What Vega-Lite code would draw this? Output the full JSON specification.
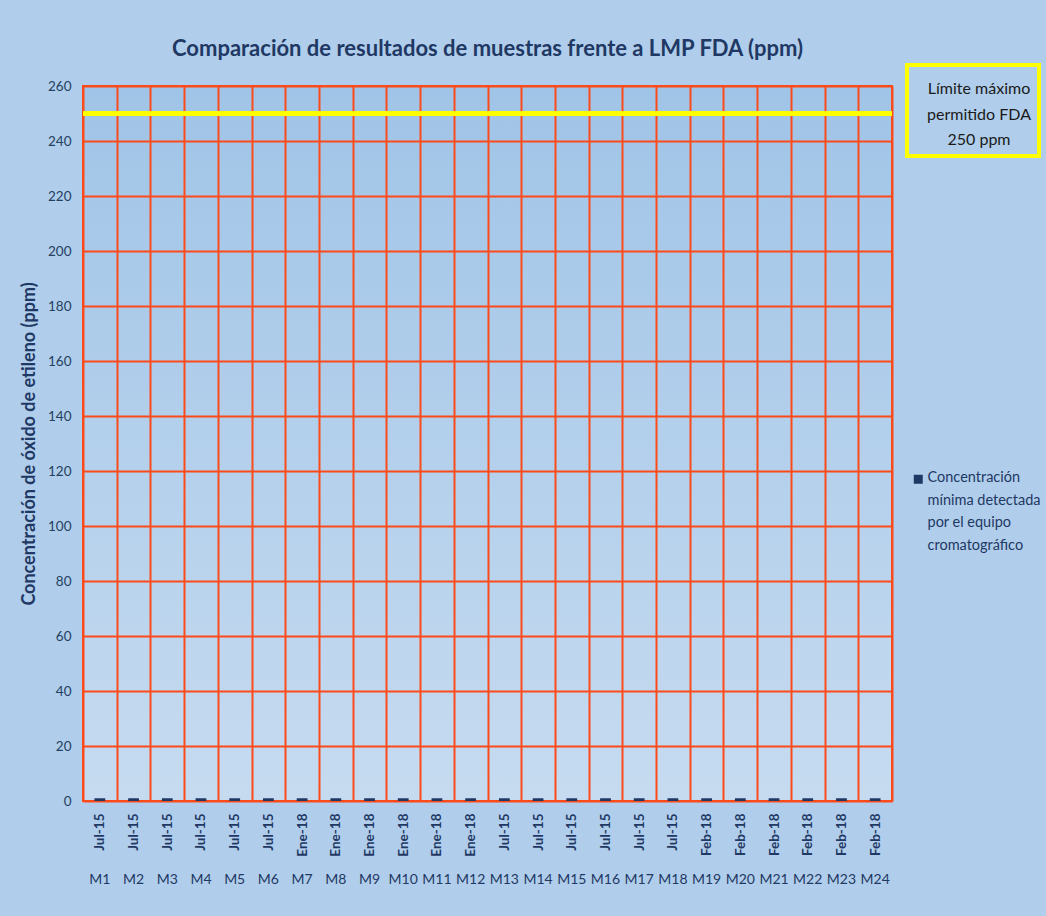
{
  "$schema": "https://vega.github.io/schema/vega-lite/v6.json",
  "width": 809,
  "height": 715,
  "autosize": {"type": "none"},
  "padding": {"left": 83, "top": 86, "right": 154, "bottom": 115},
  "background": "#b0ceeb",
  "view": {
    "fill": {
      "gradient": "linear",
      "x1": 0, "y1": 0, "x2": 0, "y2": 1,
      "stops": [
        {"offset": 0, "color": "#a0c4e7"},
        {"offset": 1, "color": "#c6dbf0"}
      ]
    },
    "stroke": "#fc4a1a",
    "strokeWidth": 2
  },
  "title": {
    "text": "Comparación de resultados de muestras frente a LMP FDA (ppm)",
    "font": "Lato",
    "fontSize": 22,
    "fontWeight": "bold",
    "color": "#1f3864",
    "anchor": "middle",
    "offset": 2
  },
  "config": {"font": "Lato"},
  "datasets": {
    "muestras": [
      {"muestra": "M1", "fecha": "Jul-15", "valor": 1, "serie": "Concentración\nmínima detectada\npor el equipo\ncromatográfico"},
      {"muestra": "M2", "fecha": "Jul-15", "valor": 1, "serie": "Concentración\nmínima detectada\npor el equipo\ncromatográfico"},
      {"muestra": "M3", "fecha": "Jul-15", "valor": 1, "serie": "Concentración\nmínima detectada\npor el equipo\ncromatográfico"},
      {"muestra": "M4", "fecha": "Jul-15", "valor": 1, "serie": "Concentración\nmínima detectada\npor el equipo\ncromatográfico"},
      {"muestra": "M5", "fecha": "Jul-15", "valor": 1, "serie": "Concentración\nmínima detectada\npor el equipo\ncromatográfico"},
      {"muestra": "M6", "fecha": "Jul-15", "valor": 1, "serie": "Concentración\nmínima detectada\npor el equipo\ncromatográfico"},
      {"muestra": "M7", "fecha": "Ene-18", "valor": 1, "serie": "Concentración\nmínima detectada\npor el equipo\ncromatográfico"},
      {"muestra": "M8", "fecha": "Ene-18", "valor": 1, "serie": "Concentración\nmínima detectada\npor el equipo\ncromatográfico"},
      {"muestra": "M9", "fecha": "Ene-18", "valor": 1, "serie": "Concentración\nmínima detectada\npor el equipo\ncromatográfico"},
      {"muestra": "M10", "fecha": "Ene-18", "valor": 1, "serie": "Concentración\nmínima detectada\npor el equipo\ncromatográfico"},
      {"muestra": "M11", "fecha": "Ene-18", "valor": 1, "serie": "Concentración\nmínima detectada\npor el equipo\ncromatográfico"},
      {"muestra": "M12", "fecha": "Ene-18", "valor": 1, "serie": "Concentración\nmínima detectada\npor el equipo\ncromatográfico"},
      {"muestra": "M13", "fecha": "Jul-15", "valor": 1, "serie": "Concentración\nmínima detectada\npor el equipo\ncromatográfico"},
      {"muestra": "M14", "fecha": "Jul-15", "valor": 1, "serie": "Concentración\nmínima detectada\npor el equipo\ncromatográfico"},
      {"muestra": "M15", "fecha": "Jul-15", "valor": 1, "serie": "Concentración\nmínima detectada\npor el equipo\ncromatográfico"},
      {"muestra": "M16", "fecha": "Jul-15", "valor": 1, "serie": "Concentración\nmínima detectada\npor el equipo\ncromatográfico"},
      {"muestra": "M17", "fecha": "Jul-15", "valor": 1, "serie": "Concentración\nmínima detectada\npor el equipo\ncromatográfico"},
      {"muestra": "M18", "fecha": "Jul-15", "valor": 1, "serie": "Concentración\nmínima detectada\npor el equipo\ncromatográfico"},
      {"muestra": "M19", "fecha": "Feb-18", "valor": 1, "serie": "Concentración\nmínima detectada\npor el equipo\ncromatográfico"},
      {"muestra": "M20", "fecha": "Feb-18", "valor": 1, "serie": "Concentración\nmínima detectada\npor el equipo\ncromatográfico"},
      {"muestra": "M21", "fecha": "Feb-18", "valor": 1, "serie": "Concentración\nmínima detectada\npor el equipo\ncromatográfico"},
      {"muestra": "M22", "fecha": "Feb-18", "valor": 1, "serie": "Concentración\nmínima detectada\npor el equipo\ncromatográfico"},
      {"muestra": "M23", "fecha": "Feb-18", "valor": 1, "serie": "Concentración\nmínima detectada\npor el equipo\ncromatográfico"},
      {"muestra": "M24", "fecha": "Feb-18", "valor": 1, "serie": "Concentración\nmínima detectada\npor el equipo\ncromatográfico"}
    ],
    "limite": [
      {"limite": "Límite máximo\npermitido FDA\n250 ppm", "valor": 250}
    ]
  },
  "layer": [
    {
      "data": {"name": "muestras"},
      "transform": [{"calculate": "datum.fecha + '|' + datum.muestra", "as": "clave"}],
      "mark": {"type": "bar", "width": {"band": 0.32}},
      "encoding": {
        "x": {
          "field": "clave",
          "type": "nominal",
          "sort": null,
          "scale": {"paddingInner": 0, "paddingOuter": 0},
          "axis": {
            "orient": "bottom",
            "title": null,
            "labelExpr": "split(datum.label, '|')[0]",
            "labelAngle": -90,
            "labelFont": "Lato",
            "labelFontSize": 13.5,
            "labelFontWeight": "bold",
            "labelColor": "#1f3864",
            "labelPadding": 12,
            "ticks": false,
            "domain": false,
            "grid": true,
            "tickBand": "extent",
            "gridColor": "#fc4a1a",
            "gridWidth": 2,
            "gridOpacity": 1
          }
        },
        "y": {
          "field": "valor",
          "type": "quantitative",
          "scale": {"domain": [0, 260], "nice": false},
          "axis": {
            "title": "Concentración de óxido de etileno (ppm)",
            "titleFont": "Lato",
            "titleFontSize": 18,
            "titleFontWeight": "bold",
            "titleColor": "#1f3864",
            "titlePadding": 9,
            "values": [0, 20, 40, 60, 80, 100, 120, 140, 160, 180, 200, 220, 240, 260],
            "labelFont": "Lato",
            "labelFontSize": 13.5,
            "labelColor": "#243f60",
            "labelPadding": 12,
            "ticks": false,
            "domain": false,
            "grid": true,
            "gridColor": "#fc4a1a",
            "gridWidth": 2,
            "gridOpacity": 1
          }
        },
        "fill": {
          "field": "serie",
          "type": "nominal",
          "scale": {"range": ["#1f3864"]},
          "legend": {
            "title": null,
            "orient": "none",
            "legendX": 828,
            "legendY": 386,
            "padding": 0,
            "symbolType": "square",
            "symbolSize": 81,
            "symbolStrokeWidth": 0,
            "labelExpr": "split(datum.label, '\\n')",
            "labelFont": "Lato",
            "labelFontSize": 14.5,
            "labelColor": "#1f3864",
            "labelLimit": 300,
            "labelOffset": 2,
            "labelBaseline": "top",
            "encode": {
              "labels": {"update": {"lineHeight": {"value": 22.5}, "dy": {"value": -8}}}
            }
          }
        }
      }
    },
    {
      "data": {"name": "limite"},
      "mark": {"type": "rule", "strokeWidth": 5},
      "encoding": {
        "y": {"field": "valor", "type": "quantitative"},
        "stroke": {
          "field": "limite",
          "type": "nominal",
          "scale": {"range": ["#ffff00"]},
          "legend": {
            "title": null,
            "orient": "none",
            "legendX": 824,
            "legendY": -21,
            "padding": 8,
            "strokeColor": "#ffff00",
            "symbolOpacity": 0,
            "symbolSize": 0,
            "labelExpr": "split(datum.label, '\\n')",
            "labelFont": "Lato",
            "labelFontSize": 16,
            "labelColor": "#1a1a1a",
            "labelLimit": 300,
            "labelAlign": "center",
            "labelOffset": 48,
            "labelBaseline": "top",
            "encode": {
              "legend": {"update": {"strokeWidth": {"value": 4}}},
              "labels": {"update": {"lineHeight": {"value": 25.5}}}
            }
          }
        }
      }
    },
    {
      "data": {"name": "muestras"},
      "transform": [{"calculate": "datum.fecha + '|' + datum.muestra", "as": "clave"}],
      "mark": {"type": "bar", "opacity": 0},
      "encoding": {
        "x": {
          "field": "clave",
          "type": "nominal",
          "sort": null,
          "axis": {
            "orient": "bottom",
            "title": null,
            "labelExpr": "split(datum.label, '|')[1]",
            "labelAngle": 0,
            "labelFont": "Lato",
            "labelFontSize": 14,
            "labelColor": "#1f3864",
            "labelBaseline": "top",
            "labelPadding": 71,
            "ticks": false,
            "domain": false,
            "grid": false
          }
        },
        "y": {"field": "valor", "type": "quantitative"}
      }
    }
  ],
  "resolve": {"axis": {"x": "independent"}}
}
